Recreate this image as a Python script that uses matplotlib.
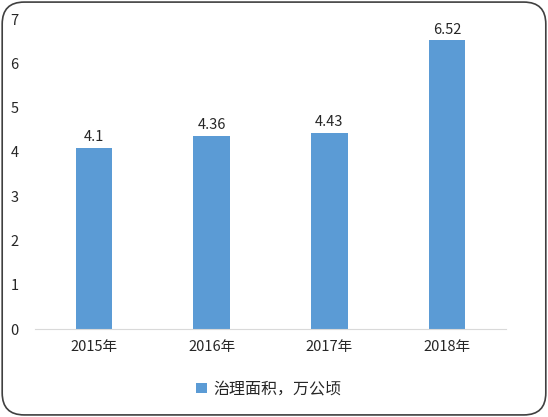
import matplotlib
matplotlib.use('Agg')
import matplotlib.pyplot as plt
from matplotlib.patches import FancyBboxPatch

plt.rcParams['font.family'] = ['Noto Sans CJK SC', 'DejaVu Sans']

years = ['2015年', '2016年', '2017年', '2018年']
area = [4.1, 4.36, 4.43, 6.52]
yticks = [0, 1, 2, 3, 4, 5, 6, 7]
legend_label = '治理面积，万公顷'

fig = plt.figure(figsize=(5.48, 4.17), dpi=100)
ax = fig.add_axes([0.064, 0.211, 0.859, 0.743])

x = range(len(years))
bars = ax.bar(x, area, width=0.31, color='#5B9BD5', label=legend_label)
for b, v in zip(bars, area):
    ax.text(b.get_x() + b.get_width() / 2, v + 0.08, f'{v:g}',
            ha='center', va='bottom', fontsize=10.5, color='#262626')

ax.set_xlim(-0.5, len(years) - 0.5)
ax.set_ylim(0, 7)
ax.set_yticks(yticks)
ax.set_xticks(list(x))
ax.set_xticklabels(years)
ax.tick_params(axis='y', length=0, pad=12, labelsize=10.5, colors='#262626')
ax.tick_params(axis='x', length=0, pad=8, labelsize=10.5, colors='#262626')
for s in ['left', 'right', 'top']:
    ax.spines[s].set_visible(False)
ax.spines['bottom'].set_color('#D9D9D9')

leg = fig.legend(loc='center', bbox_to_anchor=(0.49, 0.067), frameon=False,
                 fontsize=11.5, handlelength=0.65, handleheight=0.65, handletextpad=0.4)
for t in leg.get_texts():
    t.set_color('#262626')

box = FancyBboxPatch((0.004, 0.005), 0.992, 0.99, boxstyle='round,pad=0,rounding_size=0.04',
                     transform=fig.transFigure, fill=False, edgecolor='#404040', linewidth=1.2,
                     mutation_aspect=548 / 417)
fig.patches.append(box)

fig.savefig('out.png', dpi=100)
